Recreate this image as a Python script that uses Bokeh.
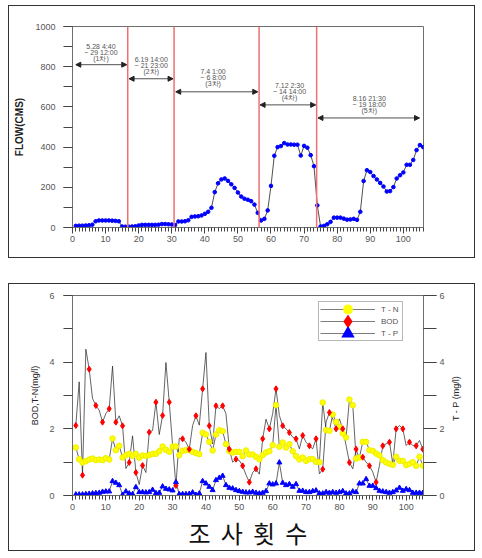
import math
from bokeh.plotting import figure
from bokeh.models import (ColumnDataSource, FixedTicker, LinearAxis, Range1d, Span,
                          Arrow, NormalHead, Legend, LegendItem, Label)
from bokeh.layouts import column
from bokeh.embed import file_html
from bokeh.resources import INLINE
from bokeh.core.properties import value

# ---------------- data: flow ----------------
flow_x = list(range(1, 107))
flow_cms = [8, 9, 9, 10, 11, 14, 31, 35, 35, 35, 35, 34, 33, 31, 5, 4, 4, 5, 6, 10,
            13, 13, 13, 13, 13, 14, 17, 17, 16, 15, 12, 30, 30, 31, 36, 53, 55, 56, 60, 68,
            78, 98, 176, 220, 239, 244, 232, 215, 197, 174, 154, 143, 138, 131, 114, 73, 35, 43, 85, 207,
            357, 400, 405, 420, 413, 413, 412, 412, 358, 406, 397, 360, 305, 110, 5, 8, 16, 28, 49, 49,
            49, 44, 39, 40, 43, 38, 78, 231, 285, 276, 256, 239, 222, 204, 179, 181, 201, 244, 260, 274,
            312, 312, 336, 385, 410, 400]
division_x = [16.7, 30.7, 56.4, 73.8]
period_labels = ["5.28 4:40\n~ 29 12:00\n(1차)",
                 "6.19 14:00\n~ 21 23:00\n(2차)",
                 "7.4 1:00\n~ 6 8:00\n(3차)",
                 "7.12 2:30\n~ 14 14:00\n(4차)",
                 "8.16 21:30\n~ 19 18:00\n(5차)"]
period_start = [1.0, 17.1, 31.2, 56.7, 74.2]
period_end = [16.4, 30.4, 56.0, 73.5, 104.9]
period_arrow_y = [810, 740, 675, 610, 545]
period_text_x = [8.6, 23.8, 42.5, 65.6, 89.7]
period_text_y = [872, 806, 745, 678, 612]
flow_xticks = list(range(0, 101, 10))
flow_yticks = [0, 200, 400, 600, 800, 1000]

# ---------------- data: water quality ----------------
wq_x = list(range(1, 107))
tn = [1.44, 1.09, 0.99, 1.03, 1.08, 1.11, 1.06, 1.08, 1.06, 1.12, 1.08, 1.71, 1.36, 1.49, 1.14, 1.21,
      1.25, 1.19, 1.25, 1.13, 1.20, 1.19, 1.21, 1.25, 1.25, 1.33, 1.47, 1.37, 1.31, 1.47, 1.47, 1.21,
      1.34, 1.36, 1.36, 1.31, 1.27, 1.24, 1.88, 1.83, 1.61, 1.35, 1.83, 1.96, 1.93, 1.54, 1.33, 1.29,
      1.31, 1.31, 1.18, 1.35, 1.23, 1.23, 1.16, 1.09, 1.21, 1.29, 1.33, 1.51, 2.71, 1.46, 1.59, 1.44,
      1.54, 1.33, 1.18, 1.08, 1.14, 1.04, 1.09, 1.09, 1.01, 1.00, 2.79, 1.96, 1.94, 2.43, 2.21, 2.06,
      1.86, 1.74, 2.88, 2.71, 1.11, 1.14, 1.61, 1.61, 1.36, 1.34, 1.26, 1.20, 1.06, 0.99, 0.95, 0.92,
      1.16, 1.04, 1.04, 0.91, 0.95, 1.00, 0.89, 1.16, 0.90, 0.92]
bod = [2.10, 3.41, 0.61, 4.39, 3.79, 2.91, 2.70, 2.56, 2.20, 2.46, 2.60, 3.88, 2.20, 2.39, 2.09, 0.81,
       0.99, 1.79, 0.69, 0.33, 0.90, 0.69, 1.90, 1.95, 2.80, 1.83, 2.40, 3.99, 2.80, 1.50, 0.30, 1.72,
       1.70, 1.60, 1.39, 2.10, 2.39, 2.11, 3.20, 4.29, 2.09, 1.55, 2.69, 2.61, 2.69, 2.45, 1.39, 1.00,
       1.09, 1.05, 0.89, 0.62, 0.40, 0.69, 0.80, 0.64, 1.70, 2.29, 2.00, 2.46, 3.20, 2.40, 2.09, 2.00,
       1.89, 1.75, 1.70, 1.40, 1.80, 1.60, 1.49, 1.40, 1.70, 0.65, 0.79, 2.20, 2.49, 2.30, 2.00, 2.30,
       2.00, 1.50, 0.99, 0.80, 1.39, 1.10, 1.15, 1.00, 0.89, 0.70, 0.40, 0.90, 1.49, 1.55, 1.60, 0.95,
       2.00, 2.10, 2.00, 1.50, 1.60, 1.50, 1.49, 1.65, 1.39, 0.85]
tp = [0.03, 0.03, 0.03, 0.04, 0.05, 0.06, 0.07, 0.08, 0.11, 0.12, 0.12, 0.43, 0.38, 0.31, 0.02, 0.12,
      0.06, 0.04, 0.25, 0.10, 0.10, 0.09, 0.10, 0.17, 0.07, 0.08, 0.27, 0.20, 0.18, 0.15, 0.40, 0.04,
      0.04, 0.04, 0.05, 0.09, 0.02, 0.06, 0.43, 0.36, 0.26, 0.16, 0.46, 0.53, 0.59, 0.31, 0.23, 0.21,
      0.16, 0.13, 0.11, 0.09, 0.09, 0.11, 0.08, 0.06, 0.08, 0.13, 0.36, 0.33, 0.36, 0.99, 0.38, 0.31,
      0.34, 0.26, 0.34, 0.14, 0.14, 0.10, 0.10, 0.13, 0.15, 0.06, 0.06, 0.10, 0.08, 0.10, 0.08, 0.10,
      0.13, 0.06, 0.06, 0.12, 0.10, 0.36, 0.36, 0.49, 0.29, 0.29, 0.22, 0.14, 0.12, 0.10, 0.08, 0.10,
      0.15, 0.23, 0.14, 0.19, 0.16, 0.08, 0.08, 0.08, 0.08, 0.08]
bod_marker_step = 2
wq_xticks = list(range(0, 101, 10))
wq_yticks = [0, 2, 4, 6]
legend_labels = ["T - N", "BOD", "T - P"]

FONT = "Liberation Sans"
GRAY = "#6e6e6e"
TXT = "#555555"
FRAME_CSS = {"border": "1px solid #333"}

def style_axis(ax, tin, tout, minor_out, standoff):
    ax.axis_line_color = GRAY
    ax.major_tick_line_color = "#444"
    ax.minor_tick_line_color = "#444"
    ax.major_tick_in = tin
    ax.major_tick_out = tout
    ax.minor_tick_in = tin
    ax.minor_tick_out = minor_out
    ax.major_label_standoff = standoff
    ax.major_label_text_font = FONT
    ax.major_label_text_font_size = "9px"
    ax.major_label_text_color = TXT

# ================= top: flow =================
p1 = figure(width=467, height=253, output_backend="svg", toolbar_location=None,
            x_range=Range1d(0, 106.1), y_range=Range1d(0, 1000),
            min_border_left=62, min_border_right=45, min_border_top=20, min_border_bottom=32,
            styles=FRAME_CSS)
p1.grid.visible = False
p1.outline_line_color = GRAY

p1.xaxis.ticker = FixedTicker(ticks=flow_xticks, minor_ticks=list(range(0, 107)))
p1.yaxis.ticker = FixedTicker(ticks=flow_yticks, minor_ticks=list(range(0, 1001, 100)))
style_axis(p1.xaxis[0], 0, 6, 4, 2)
style_axis(p1.yaxis[0], 0, 9, 9, 8)
p1.yaxis.axis_label = "FLOW(CMS)"
p1.yaxis.axis_label_text_font = FONT
p1.yaxis.axis_label_text_font_style = "bold"
p1.yaxis.axis_label_text_font_size = "10px"
p1.yaxis.axis_label_text_color = "#222"
p1.yaxis.axis_label_standoff = 7

for dx in division_x:
    p1.add_layout(Span(location=dx, dimension="height", line_color="#ee7070", line_width=1.5))

fsrc = ColumnDataSource(dict(x=flow_x, y=flow_cms))
p1.line("x", "y", source=fsrc, line_color="#222", line_width=0.8)
p1.scatter("x", "y", source=fsrc, marker="circle", size=3.6, fill_color="#0000ff",
           line_color="#0000ff")

asrc = ColumnDataSource(dict(x0=period_start, x1=period_end, y=period_arrow_y))
p1.add_layout(Arrow(source=asrc, x_start="x0", x_end="x1", y_start="y", y_end="y",
                    line_color="#222", line_width=0.8,
                    start=NormalHead(size=5, fill_color="#222", line_color="#222"),
                    end=NormalHead(size=5, fill_color="#222", line_color="#222")))
tsrc = ColumnDataSource(dict(x=period_text_x, y=period_text_y, t=period_labels))
p1.text("x", "y", text="t", source=tsrc, text_align="center", text_baseline="middle",
        text_font=value(FONT), text_font_size="7px", text_color=TXT, text_line_height=0.85)

# ================= bottom: water quality =================
p2 = figure(width=467, height=268, output_backend="svg", toolbar_location=None,
            x_range=Range1d(0, 105.2), y_range=Range1d(0, 6),
            min_border_left=63, min_border_right=53, min_border_top=11, min_border_bottom=57,
            styles=FRAME_CSS)
p2.grid.visible = False
p2.outline_line_color = GRAY
p2.extra_y_ranges = {"tp": Range1d(0, 6)}
right_ax = LinearAxis(y_range_name="tp")
p2.add_layout(right_ax, "right")

p2.xaxis.ticker = FixedTicker(ticks=wq_xticks, minor_ticks=list(range(0, 106)))
for ax in (p2.yaxis[0], right_ax):
    ax.ticker = FixedTicker(ticks=wq_yticks, minor_ticks=list(range(0, 7)))
style_axis(p2.xaxis[0], 0, 5, 4, 3)
style_axis(p2.yaxis[0], 0, 9, 9, 9)
style_axis(right_ax, 0, 13, 13, 3)

p2.xaxis.axis_label = "조\u00a0\u2009사\u00a0\u2009횟\u00a0\u2009수"
p2.xaxis.axis_label_text_font = "Noto Sans CJK KR"
p2.xaxis.axis_label_text_font_style = "normal"
p2.xaxis.axis_label_text_font_size = "24px"
p2.xaxis.axis_label_text_color = "#111"
p2.xaxis.axis_label_standoff = 2

ax_l = p2.yaxis[0]
ax_l.axis_label = "BOD,T-N(mg/l)"
ax_l.axis_label_text_font = FONT
ax_l.axis_label_text_font_style = "normal"
ax_l.axis_label_text_font_size = "9px"
ax_l.axis_label_text_color = "#222"
ax_l.axis_label_standoff = 6

# right-hand axis title, reading bottom-to-top like the original
p2.add_layout(Label(x=8, y=97, x_units="screen", y_units="screen", text="T - P (mg/l)",
                    angle=math.pi / 2, text_align="center", text_baseline="middle",
                    text_font=FONT, text_font_size="9px", text_color="#222"), "right")

src = ColumnDataSource(dict(x=wq_x, tn=tn, bod=bod, tp=tp))
bod_src = ColumnDataSource(dict(x=wq_x[::bod_marker_step], y=bod[::bod_marker_step]))
p2.line("x", "tn", source=src, line_color="#222", line_width=0.7)
p2.line("x", "bod", source=src, line_color="#222", line_width=0.7)
p2.line("x", "tp", source=src, line_color="#222", line_width=0.7, y_range_name="tp")
p2.scatter("x", "tn", source=src, marker="circle", size=5.5, fill_color="#ffff00",
           line_color="#eeee00")
p2.scatter("x", "y", source=bod_src, marker="diamond", size=6, fill_color="#ff0000",
           line_color="#ff0000")
p2.scatter("x", "tp", source=src, marker="triangle", size=5, fill_color="#0000ff",
           line_color="#0000ff", y_range_name="tp")

# legend (legend-only renderers, one undefined point each)
nan_src = ColumnDataSource(dict(x=[float("nan")], y=[float("nan")]))
leg_specs = [("circle", "#ffff00"), ("diamond", "#ff0000"), ("triangle", "#0000ff")]
items = []
for lab, (mk, col) in zip(legend_labels, leg_specs):
    lr = p2.line("x", "y", source=nan_src, line_color="#444", line_width=0.7)
    sr = p2.scatter("x", "y", source=nan_src, marker=mk, size=6, fill_color=col,
                    line_color=col, line_width=5, line_join="miter")
    items.append(LegendItem(label=lab, renderers=[lr, sr]))
legend = Legend(items=items, location=(246, 154), glyph_width=55, glyph_height=12,
                label_height=12, spacing=0, padding=1, margin=0, label_standoff=6,
                label_text_font=FONT, label_text_font_size="8px", label_text_color=TXT,
                border_line_color=GRAY, border_line_width=1, background_fill_color="white",
                background_fill_alpha=1.0)
p2.add_layout(legend, "center")

layout = column(p1, p2, spacing=25, margin=(5, 0, 0, 8))
open("out.html", "w").write(file_html(layout, INLINE))
